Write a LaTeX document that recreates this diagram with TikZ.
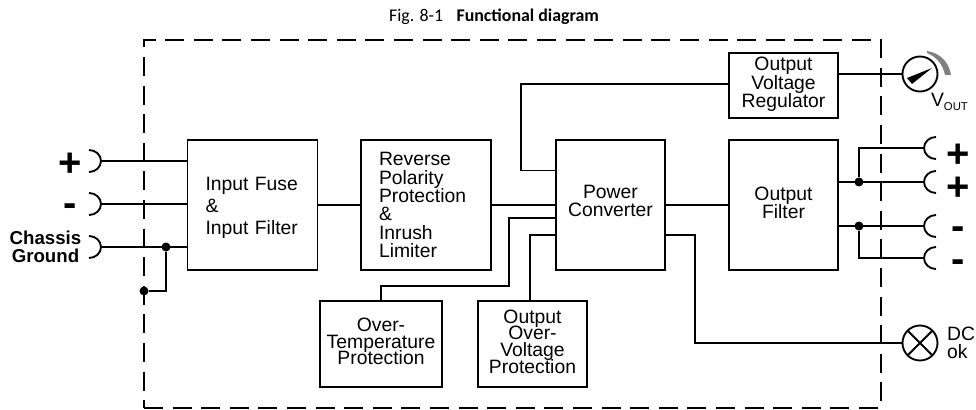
\documentclass[tikz,border=0pt]{standalone}
\usepackage{fontspec}
\setmainfont{Liberation Sans}
\newfontfamily\titlefont{Carlito}
\def\pxu{0.75pt}
\tikzset{
  wire/.style={line width=1.4pt},
  border/.style={line width=1.4pt, dash pattern=on 14.25pt off 7.2pt},
  fblock/.style 2 args={draw, line width=1.4pt, inner sep=0pt, outer sep=0pt, align=center,
    minimum width=#1*\pxu, minimum height=#2*\pxu,
    font=\fontsize{14.5}{13.75}\selectfont},
  leftblock/.style={align=left, text width=70.5pt},
  jdot/.style={circle, fill, inner sep=0pt, outer sep=0pt, minimum size=9*\pxu},
  dial/.style={circle, draw, line width=1.4pt, inner sep=0pt, outer sep=0pt, minimum size=35*\pxu},
  sign/.style={inner sep=0pt, font=\fontsize{30}{30}\selectfont\bfseries},
  tag/.style={inner sep=0pt, align=left, font=\fontsize{14.5}{13.5}\selectfont}
}
\begin{document}
\begin{tikzpicture}[x=\pxu, y=-\pxu]
  \useasboundingbox (0,0) rectangle (976,410);
  \node[inner sep=0pt, font=\titlefont\fontsize{13.4}{14}\selectfont] (title) at (494,17) {Fig. 8-1\hspace{10pt}\textbf{Functional diagram}};
  \draw[border] (144,408) -- (881,408) -- (881,40) -- (144,40) -- cycle;

  % blocks
  \node[fblock={130}{130}, leftblock] (fuse) at (252.5,205) {\rule{0pt}{15pt}Input Fuse\\[2.75pt]\&\\[2.75pt]Input Filter};
  \node[fblock={130}{130}, leftblock] (reverse) at (426,205) {Reverse\\Polarity\\Protection\\\&\\Inrush\\Limiter};
  \node[fblock={109}{130}] (power) at (610.5,205) {Power\\Converter\\[-7.75pt]\mbox{}};
  \node[fblock={109}{130}] (filter) at (783.5,205) {Output\\Filter\\[-10.75pt]\mbox{}};
  \node[fblock={109}{65}] (regulator) at (783.5,85.5) {Output\\Voltage\\Regulator\\[-9pt]\mbox{}};
  \node[fblock={122}{86}] (temp) at (381,344) {Over-\\[-1.25pt]Temperature\\[-1.25pt]Protection\\[-10pt]\mbox{}};
  \node[fblock={109}{86}] (ovp) at (532.5,344) {Output\\[-1.25pt]Over-\\[-1.25pt]Voltage\\[-1.25pt]Protection\\[-10pt]\mbox{}};

  % dial and lamp
  \node[dial] (meter) at (920,74) {};
  \fill (932,68) -- (907,78) -- (912,84) -- cycle;
  \fill[gray] (927,51) .. controls (940,53) and (949,62) .. (951,75) -- (945,75)
    .. controls (943,65) and (937,57) .. (927,53) -- cycle;
  \node[dial] (lamp) at (920,343) {};
  \draw[wire] (lamp.45) -- (lamp.225) (lamp.135) -- (lamp.315);
  \node[tag] (vout) at (949.5,102) {V\raisebox{-0.45ex}{\fontsize{8.5}{8.5}\selectfont OUT}};
  \node[tag] (dcok) at (961,343) {DC\\ok};

  % input side
  \coordinate (inplus) at (101,161);
  \coordinate (inminus) at (101,204);
  \coordinate (inground) at (101,247);
  \foreach \port in {inplus,inminus,inground}
    \draw[wire] (\port) ++(-12,-11) arc[start angle=-90, end angle=90, x radius=12, y radius=11];
  \node[sign] (lplus) at (70,165) {+};
  \node[sign] (lminus) at (70,210) {-};
  \node[inner sep=0pt, align=center, font=\fontsize{14}{13.5}\selectfont\bfseries] (chassis) at (45.5,247) {Chassis\\Ground};
  \node[jdot] (gnda) at (166,247) {};
  \node[jdot] (gndb) at (144,291) {};
  \draw[wire] (inplus) -- (inplus -| fuse.west);
  \draw[wire] (inminus) -- (inminus -| fuse.west);
  \draw[wire] (inground) -- (inground -| fuse.west);
  \draw[wire] (gnda) |- (gndb);

  % output side
  \coordinate (outa) at (924,148);
  \coordinate (outb) at (924,182);
  \coordinate (outc) at (924,226);
  \coordinate (outd) at (924,258);
  \foreach \port in {outa,outb,outc,outd}
    \draw[wire] (\port) ++(12,-11) arc[start angle=-90, end angle=-270, x radius=12, y radius=11];
  \node[sign] (ra) at (958,155.5) {+};
  \node[sign] (rb) at (958,188.5) {+};
  \node[sign] (rc) at (958,233) {-};
  \node[sign] (rd) at (958,266) {-};
  \node[jdot] (posj) at (859,182) {};
  \node[jdot] (negj) at (859,226) {};
  \draw[wire] (outb -| filter.east) -- (outb);
  \draw[wire] (outc -| filter.east) -- (outc);
  \draw[wire] (posj) |- (outa);
  \draw[wire] (negj) |- (outd);

  % between blocks
  \draw[wire] (fuse.east) -- (reverse.west);
  \draw[wire] (reverse.east) -- (power.west);
  \draw[wire] (power.east) -- (filter.west);
  \draw[wire] (power.west |- 0,170.5) -| (521,84) -- (regulator.west |- 0,84);
  \draw[wire] (power.west |- 0,218) -| (509,286) -| (temp.north);
  \draw[wire] (power.west |- 0,235) -| (ovp.north -| 530,0);
  \draw[wire] (power.east |- 0,235) -| (695,343) -- (lamp.west);
  \draw[wire] (regulator.east |- meter.west) -- (meter.west);
\end{tikzpicture}
\end{document}
